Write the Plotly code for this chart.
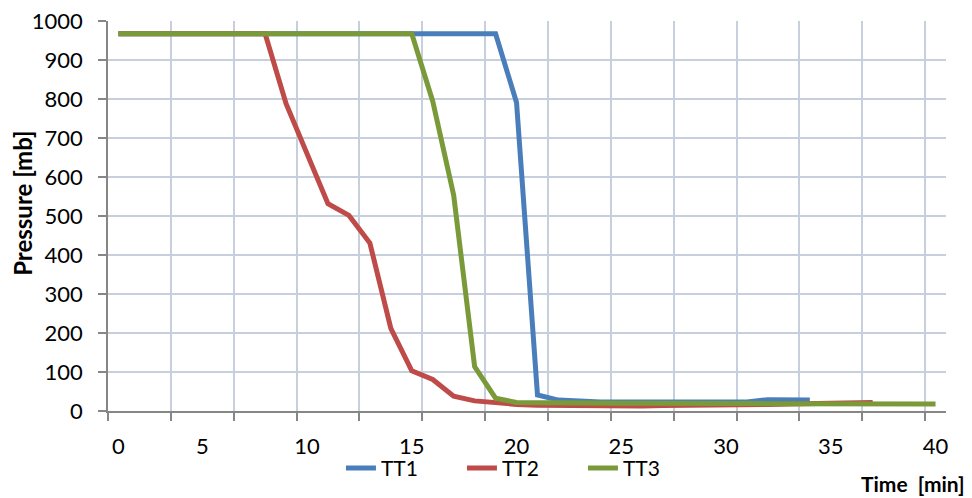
import plotly.graph_objects as go

# Category labels (sample times, minutes) of the Excel-style line chart
times = [0] + [2, 3, 4, 5, 6, 7, 8, 9, 10, 11, 12, 13, 14, 15, 16, 17, 18, 19, 20,
               21, 22, 23, 24, 25, 26, 27, 28, 29, 30, 31, 32, 33, 34, 35, 36, 37, 38, 39, 40]

tt1 = [968, 968, 968, 968, 968, 968, 968, 968, 968, 968, 968, 968, 968, 968, 968, 968, 968, 968, 968,
       792, 41, 28, 24, 23, 23, 23, 23, 23, 23, 23, 23, 29, 29, 28]
tt2 = [968, 968, 968, 968, 968, 968, 968, 968,
       789, 660, 532, 502, 431, 212, 103, 81, 38, 26, 20, 17, 15,
       14, 14, 13, 13, 13, 14, 14, 15, 15, 16, 17, 18, 19, 20, 22, 22]
tt3 = [968, 968, 968, 968, 968, 968, 968, 968, 968, 968, 968, 968, 968, 968, 968,
       795, 554, 114, 33, 22,
       21, 21, 20, 20, 20, 20, 19, 19, 19, 19, 19, 19, 18, 18, 18, 18, 18, 18, 18, 18]

x_tick_labels = [0, 5, 10, 15, 20, 25, 30, 35, 40]
y_ticks = [0, 100, 200, 300, 400, 500, 600, 700, 800, 900, 1000]

series = [("TT1", tt1, "#4A7EBB"), ("TT2", tt2, "#BE4B48"), ("TT3", tt3, "#7A9A3A")]

FONT = "Lato"
fig = go.Figure()
for name, vals, col in series:
    fig.add_trace(go.Scatter(
        x=list(range(len(vals))), y=vals, name=name, mode="lines",
        line=dict(color=col, width=5),
    ))

tickvals = [times.index(t) for t in x_tick_labels]

# page body adds an 8px offset, so the figure is 8px smaller and top/left margins shifted
fig.update_layout(
    width=964, height=490,
    margin=dict(l=100, r=26, t=13, b=87, autoexpand=False),
    paper_bgcolor="white", plot_bgcolor="white",
    font=dict(family=FONT, size=21, color="#000000"),
    showlegend=True,
    legend=dict(orientation="h", x=0.278, xanchor="left", y=-0.147, yanchor="middle",
                font=dict(family=FONT, size=21), entrywidth=76, entrywidthmode="pixels",
                bgcolor="rgba(0,0,0,0)", tracegroupgap=0, itemwidth=30),
    xaxis=dict(
        range=[-0.5, len(times) - 0.5], tickmode="array", tickvals=tickvals,
        ticktext=[str(t) for t in x_tick_labels], ticks="", showgrid=False,
        ticklabelstandoff=15, zeroline=False, automargin=False,
        showline=True, linecolor="#868686", linewidth=1.5,
        minor=dict(tickmode="linear", tick0=-0.5, dtick=3, showgrid=True,
                   gridcolor="#C7CFDF", gridwidth=1.5, ticks="outside", ticklen=8,
                   tickcolor="#868686", tickwidth=1.5),
        tickfont=dict(family=FONT, size=22),
    ),
    yaxis=dict(
        range=[0, 1001], tickmode="array", tickvals=y_ticks,
        showgrid=True, gridcolor="#C7CFDF", gridwidth=1.5, zeroline=False, automargin=False,
        showline=True, linecolor="#868686", linewidth=1.5,
        ticks="outside", ticklen=8, tickcolor="#868686", tickwidth=1.5,
        ticklabelstandoff=11, ticklabeloverflow="allow",
        tickfont=dict(family=FONT, size=22),
    ),
    annotations=[
        dict(text="<b>Pressure [mb]</b>", xref="paper", yref="paper", x=-0.1030, y=0.533,
             xanchor="center", yanchor="middle", textangle=-90, showarrow=False,
             font=dict(family=FONT, size=24)),
        dict(text="<b>Time  [min]</b>", xref="paper", yref="paper", x=1.025, y=-0.187,
             xanchor="right", yanchor="middle", showarrow=False,
             font=dict(family=FONT, size=21)),
    ],
)

fig.write_html("out.html")
